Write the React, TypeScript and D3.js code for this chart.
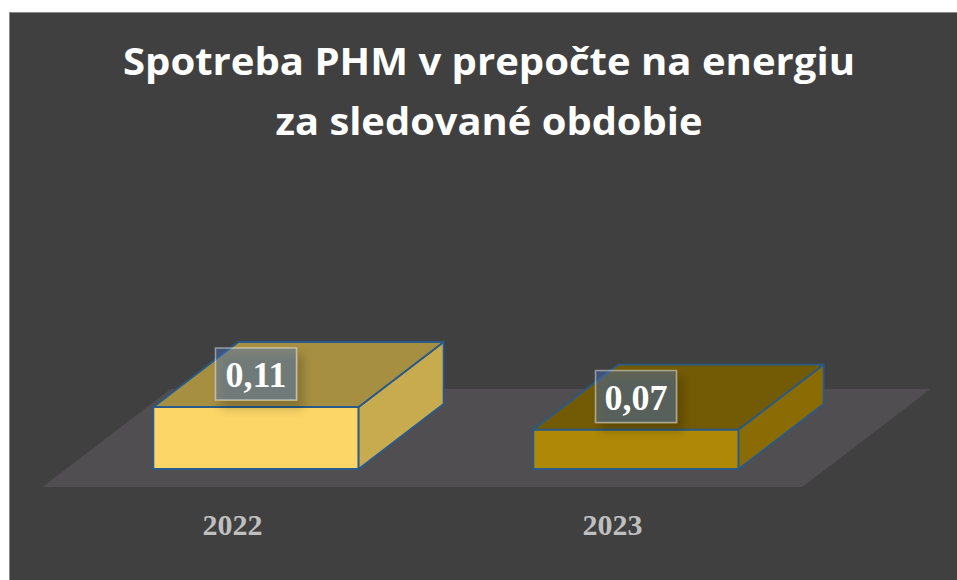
import React from "react";
import * as d3 from "d3";

const years = ["2022", "2023"];
const values = [0.11, 0.07];
const labels = ["0,11", "0,07"];
const frontColors = ["#FCD666", "#AE8806"];
const sideColors = ["#C8AA4F", "#8B6C04"];
const topColors = ["#A68F40", "#735A04"];
const titleLines = ["Spotreba PHM v prepočte na energiu", "za sledované obdobie"];

export default function App() {
  const ref = React.useRef<SVGSVGElement>(null);

  React.useEffect(() => {
    const width = 957;
    const height = 580;
    const baseY = 469; // floor plane at the front of the boxes
    const depth = [85, -65]; // projected offset of one box depth
    const floorFront = -0.277;
    const floorBack = 1.23;

    const svg = d3.select(ref.current);
    svg.selectAll("*").remove();
    svg
      .attr("width", width)
      .attr("height", height)
      .attr("viewBox", [0, 0, width, height])
      .style("position", "absolute")
      .style("left", 0)
      .style("top", 0);

    const x = d3.scaleBand().domain(years).range([66, 826]).padding(0);
    const y = d3.scaleLinear().domain([0, 0.11]).range([baseY, 407]);
    const boxW = x.bandwidth() * 0.54;

    const defs = svg.append("defs");
    const f = defs.append("filter").attr("id", "lblShadow")
      .attr("x", "-30%").attr("y", "-30%").attr("width", "160%").attr("height", "180%");
    f.append("feDropShadow").attr("dx", 6).attr("dy", 8).attr("stdDeviation", 5)
      .attr("flood-color", "#000").attr("flood-opacity", 0.45);

    // background
    svg.append("rect")
      .attr("x", 9.5).attr("y", 12.5)
      .attr("width", width + 10).attr("height", height + 10)
      .attr("fill", "#404040").attr("stroke", "#8a8a8a").attr("stroke-width", 1);

    // title
    svg.append("g")
      .selectAll("text")
      .data(titleLines)
      .join("text")
      .attr("x", 489)
      .attr("y", (d, i) => 75 + i * 60)
      .attr("text-anchor", "middle")
      .attr("font-family", "'Open Sans', Lato, sans-serif")
      .attr("font-weight", 700)
      .attr("font-size", 38)
      .attr("fill", "#ffffff")
      .attr("textLength", (d, i) => (i === 0 ? 732 : 427))
      .attr("lengthAdjust", "spacingAndGlyphs")
      .text((d) => d);

    // floor
    const [r0, r1] = x.range();
    const pt = (px: number, py: number, dd: number) => [px + depth[0] * dd, py + depth[1] * dd];
    const floorPts = [
      pt(r0, baseY, floorFront),
      pt(r1, baseY, floorFront),
      pt(r1, baseY, floorBack),
      pt(r0, baseY, floorBack),
    ];
    svg.append("polygon")
      .attr("points", floorPts.map((p) => p.join(",")).join(" "))
      .attr("fill", "#504E50");

    // boxes
    const data = years.map((yr, i) => ({ yr, v: values[i], i }));
    const boxes = svg.append("g").selectAll("g").data(data).join("g");
    const stroke = "#285A8A";

    const face = (pts: number[][]) => pts.map((p) => p.join(",")).join(" ");

    boxes.append("polygon") // front
      .attr("points", (d) => {
        const x0 = x(d.yr)! + (x.bandwidth() - boxW) / 2;
        const x1 = x0 + boxW;
        return face([[x0, y(0)], [x1, y(0)], [x1, y(d.v)], [x0, y(d.v)]]);
      })
      .attr("fill", (d) => frontColors[d.i]);

    boxes.append("polygon") // side
      .attr("points", (d) => {
        const x1 = x(d.yr)! + (x.bandwidth() + boxW) / 2;
        return face([[x1, y(0)], pt(x1, y(0), 1), pt(x1, y(d.v), 1), [x1, y(d.v)]]);
      })
      .attr("fill", (d) => sideColors[d.i]);

    boxes.append("polygon") // top
      .attr("points", (d) => {
        const x0 = x(d.yr)! + (x.bandwidth() - boxW) / 2;
        const x1 = x0 + boxW;
        return face([[x0, y(d.v)], [x1, y(d.v)], pt(x1, y(d.v), 1), pt(x0, y(d.v), 1)]);
      })
      .attr("fill", (d) => topColors[d.i]);

    boxes.selectAll("polygon")
      .attr("stroke", stroke)
      .attr("stroke-width", 1.8)
      .attr("stroke-linejoin", "round");

    // data labels
    const lblW = 81;
    const lblH = 52;
    const lbl = svg.append("g").selectAll("g").data(data).join("g")
      .attr("transform", (d) => `translate(${x(d.yr)! + x.bandwidth() / 2},${y(d.v) - 33})`);
    lbl.append("rect")
      .attr("x", -lblW / 2).attr("y", -lblH / 2)
      .attr("width", lblW).attr("height", lblH)
      .attr("fill", "rgba(68,114,196,0.4)")
      .attr("stroke", "rgba(255,255,255,0.45)")
      .attr("stroke-width", 1.5)
      .attr("filter", "url(#lblShadow)");
    lbl.append("text")
      .attr("y", 13)
      .attr("text-anchor", "middle")
      .attr("font-family", "'Liberation Serif', 'Times New Roman', serif")
      .attr("font-weight", 700)
      .attr("font-size", 36)
      .attr("fill", "#ffffff")
      .text((d) => labels[d.i]);

    // category labels at the front edge of the floor
    svg.append("g").selectAll("text").data(data).join("text")
      .attr("x", (d) => x(d.yr)! + x.bandwidth() / 2 + depth[0] * floorFront)
      .attr("y", 535)
      .attr("text-anchor", "middle")
      .attr("font-family", "'Liberation Serif', 'Times New Roman', serif")
      .attr("font-weight", 700)
      .attr("font-size", 30)
      .attr("fill", "#BFBFBF")
      .text((d) => d.yr);
  }, []);

  return <svg ref={ref}></svg>;
}
